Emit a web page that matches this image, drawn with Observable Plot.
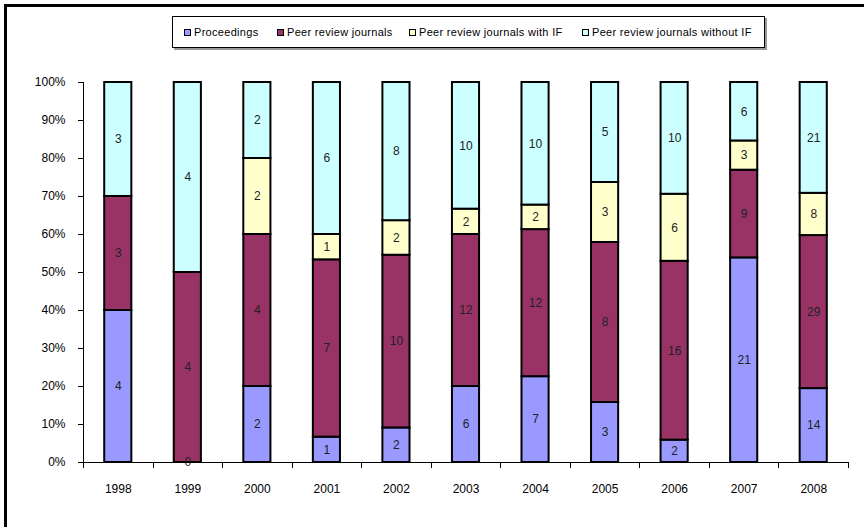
<!DOCTYPE html>
<html>
<head>
<meta charset="utf-8">
<script src="https://cdn.jsdelivr.net/npm/d3@7"></script>
<script src="https://cdn.jsdelivr.net/npm/@observablehq/plot@0.6"></script>
<style>
  html, body { margin: 0; padding: 0; background: #fff; }
  #wrap { position: relative; width: 864px; height: 527px; overflow: hidden; font-family: "Liberation Sans", Arial, sans-serif; }
  #frame { position: absolute; left: 4px; top: 4px; width: 870px; height: 540px; border-top: 3px solid #000; border-left: 3px solid #000; box-sizing: border-box; pointer-events: none; }
  #legend { position: absolute; left: 172px; top: 16px; width: 593px; height: 32px; border: 1px solid #000; box-sizing: border-box; background: #fff; box-shadow: 2px 2px 0 #999; font-size: 11px; letter-spacing: 0.3px; color: #000; }
  .item { display: flex; align-items: center; position: absolute; top: 9px; white-space: nowrap; }
  .sw { width: 5px; height: 5px; border: 1px solid #000; margin-right: 3px; }
  #chart { position: absolute; left: 0; top: 0; }
</style>
</head>
<body>
<div id="wrap">
  <div id="chart"></div>
  <div id="legend"></div>
  <div id="frame"></div>
</div>
<script>
const years = ["1998","1999","2000","2001","2002","2003","2004","2005","2006","2007","2008"];
const seriesNames = ["Proceedings", "Peer review journals", "Peer review journals with IF", "Peer review journals without IF"];
const seriesColors = ["#9999FF", "#993366", "#FFFFCC", "#CCFFFF"];
// null = no segment / no label
const proceedings = [4, 0, 2, 1, 2, 6, 7, 3, 2, 21, 14];
const peerReview  = [3, 4, 4, 7, 10, 12, 12, 8, 16, 9, 29];
const withIF      = [null, null, 2, 1, 2, 2, 2, 3, 6, 3, 8];
const withoutIF   = [3, 4, 2, 6, 8, 10, 10, 5, 10, 6, 21];
const legendX = [11, 104, 236, 409];

const seriesValues = [proceedings, peerReview, withIF, withoutIF];
const rows = [];
years.forEach((y, i) => {
  seriesNames.forEach((s, j) => {
    const v = seriesValues[j][i];
    if (v !== null) rows.push({year: y, series: s, value: v});
  });
});

const boundaryMark = (index, scales, values, dimensions) => {
  const g = d3.create("svg:g");
  const xs = scales.x;
  const step = xs.step ? xs.step() : (dimensions.width - dimensions.marginLeft - dimensions.marginRight) / years.length;
  const x0 = dimensions.marginLeft;
  const yb = dimensions.height - dimensions.marginBottom;
  const yt = dimensions.marginTop;
  g.append("line").attr("x1", x0 + 0.5).attr("x2", x0 + 0.5).attr("y1", yt).attr("y2", yb).attr("stroke", "#000").attr("stroke-width", 1);
  g.append("line").attr("x1", x0).attr("x2", dimensions.width - dimensions.marginRight).attr("y1", yb + 0.5).attr("y2", yb + 0.5).attr("stroke", "#000").attr("stroke-width", 1);
  for (let i = 0; i <= years.length; i++) {
    const xx = Math.round(x0 + i * step) + 0.5;
    g.append("line").attr("x1", xx).attr("x2", xx).attr("y1", yb).attr("y2", yb + 6).attr("stroke", "#000").attr("stroke-width", 1);
  }
  return g.node();
};

const chart = Plot.plot({
  width: 864,
  height: 527,
  marginTop: 82,
  marginBottom: 65,
  marginLeft: 83,
  marginRight: 16,
  style: { fontFamily: "'Liberation Sans', Arial, sans-serif", fontSize: "12px", background: "transparent", overflow: "visible" },
  x: { domain: years, paddingInner: 0.61, paddingOuter: 0.305, round: false, label: null },
  y: { domain: [0, 1], label: null },
  color: { domain: seriesNames, range: seriesColors },
  marks: [
    Plot.barY(rows, Plot.stackY({
      x: "year", y: "value", z: "series", fill: "series", order: seriesNames, offset: "normalize",
      stroke: "#000", strokeWidth: 2
    })),
    Plot.text(rows, Plot.stackY({
      x: "year", y: "value", z: "series", order: seriesNames, offset: "normalize",
      text: d => String(d.value), fill: "#222", fontSize: 12
    })),
    boundaryMark,
    Plot.axisY({ ticks: d3.range(0, 1.0001, 0.1), tickFormat: d3.format(".0%"), tickSize: 5, tickPadding: 13, fontSize: 12, color: "#000" }),
    Plot.axisX({ tickSize: 0, tickPadding: 22, fontSize: 12 })
  ]
});
document.getElementById("chart").appendChild(chart);

const legend = document.getElementById("legend");
seriesNames.forEach((s, i) => {
  const it = document.createElement("div");
  it.className = "item";
  it.style.left = legendX[i] + "px";
  const sw = document.createElement("div");
  sw.className = "sw";
  sw.style.background = seriesColors[i];
  const t = document.createElement("span");
  t.textContent = s;
  it.appendChild(sw);
  it.appendChild(t);
  legend.appendChild(it);
});
</script>
</body>
</html>
